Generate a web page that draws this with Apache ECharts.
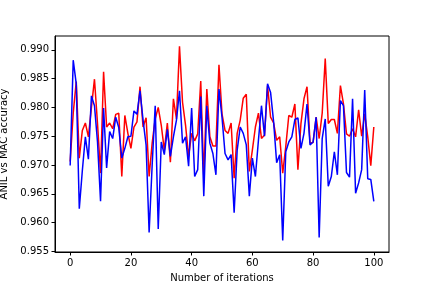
<!DOCTYPE html>
<html>
<head>
<meta charset="utf-8">
<script src="https://cdn.jsdelivr.net/npm/echarts@6/dist/echarts.min.js"></script>
<style>html,body{margin:0;padding:0;background:#fff}#c{width:432px;height:288px}</style>
</head>
<body>
<div id="c"></div>
<script>
const xTicks = [0, 20, 40, 60, 80, 100];
const yTicks = [0.955, 0.960, 0.965, 0.970, 0.975, 0.980, 0.985, 0.990];
const redValues = [
0.9706, 0.9790, 0.9845, 0.9712, 0.9760, 0.9773, 0.9749, 0.9800, 0.9849, 0.9772,
0.9686, 0.9862, 0.9766, 0.9773, 0.9763, 0.9788, 0.9790, 0.9680, 0.9786, 0.9755,
0.9729, 0.9766, 0.9775, 0.9836, 0.9766, 0.9782, 0.9680, 0.9738, 0.9780, 0.9800,
0.9769, 0.9726, 0.9773, 0.9705, 0.9815, 0.9780, 0.9906, 0.9809, 0.9769, 0.9715,
0.9755, 0.9742, 0.9754, 0.9846, 0.9680, 0.9832, 0.9749, 0.9733, 0.9733, 0.9874,
0.9789, 0.9760, 0.9755, 0.9773, 0.9677, 0.9755, 0.9778, 0.9816, 0.9823, 0.9689,
0.9726, 0.9766, 0.9790, 0.9746, 0.9752, 0.9838, 0.9783, 0.9773, 0.9743, 0.9749,
0.9686, 0.9732, 0.9786, 0.9783, 0.9806, 0.9692, 0.9772, 0.9815, 0.9836, 0.9738,
0.9739, 0.9783, 0.9746, 0.9790, 0.9885, 0.9772, 0.9779, 0.9779, 0.9755, 0.9838,
0.9806, 0.9754, 0.9750, 0.9763, 0.9749, 0.9796, 0.9750, 0.9789, 0.9749, 0.9699,
0.9766];
const blueValues = [
0.9699, 0.9882, 0.9841, 0.9624, 0.9690, 0.9749, 0.9710, 0.9820, 0.9803, 0.9740,
0.9637, 0.9799, 0.9695, 0.9758, 0.9746, 0.9783, 0.9765, 0.9712, 0.9729, 0.9749,
0.9750, 0.9794, 0.9788, 0.9829, 0.9778, 0.9735, 0.9583, 0.9700, 0.9803, 0.9589,
0.9740, 0.9718, 0.9762, 0.9715, 0.9749, 0.9778, 0.9829, 0.9738, 0.9749, 0.9698,
0.9799, 0.9680, 0.9692, 0.9819, 0.9646, 0.9803, 0.9738, 0.9720, 0.9683, 0.9832,
0.9783, 0.9720, 0.9709, 0.9718, 0.9617, 0.9726, 0.9766, 0.9755, 0.9735, 0.9646,
0.9712, 0.9680, 0.9743, 0.9803, 0.9750, 0.9841, 0.9826, 0.9775, 0.9704, 0.9718,
0.9569, 0.9723, 0.9740, 0.9749, 0.9779, 0.9782, 0.9729, 0.9755, 0.9806, 0.9735,
0.9740, 0.9783, 0.9574, 0.9746, 0.9780, 0.9663, 0.9680, 0.9723, 0.9683, 0.9812,
0.9803, 0.9687, 0.9679, 0.9815, 0.9651, 0.9669, 0.9692, 0.9830, 0.9676, 0.9675,
0.9637];

const toPairs = arr => arr.map((v, i) => [i, v]);
const font = 'DejaVu Sans';
const chart = echarts.init(document.getElementById('c'), null, {renderer: 'canvas'});
chart.setOption({
  animation: false,
  backgroundColor: '#fff',
  grid: {left: 55, right: 43, top: 36, bottom: 36, show: true, borderColor: '#000', borderWidth: 1,
         backgroundColor: 'transparent', containLabel: false, outerBoundsMode: 'none'},
  xAxis: {
    type: 'value', min: -5, max: 105,
    name: 'Number of iterations', nameLocation: 'middle', nameGap: 21,
    nameTextStyle: {fontFamily: font, fontSize: 10, color: '#000'},
    axisLine: {show: true, onZero: false, lineStyle: {color: '#000', width: 1}},
    axisTick: {show: true, length: 3.5, inside: false, lineStyle: {color: '#000'}, customValues: xTicks},
    axisLabel: {fontFamily: font, fontSize: 10, color: '#000', margin: 6, customValues: xTicks},
    splitLine: {show: false}
  },
  yAxis: {
    type: 'value', min: 0.9549, max: 0.9924,
    name: 'ANIL vs MAC accuracy', nameLocation: 'middle', nameGap: 40, nameRotate: 90,
    nameTextStyle: {fontFamily: font, fontSize: 10, color: '#000'},
    axisLine: {show: true, onZero: false, lineStyle: {color: '#000', width: 1}},
    axisTick: {show: true, length: 3.5, lineStyle: {color: '#000'}, customValues: yTicks},
    axisLabel: {fontFamily: font, fontSize: 10, color: '#000', margin: 6, customValues: yTicks,
      formatter: v => v.toFixed(3)},
    splitLine: {show: false}
  },
  series: [
    {type: 'line', data: toPairs(redValues), showSymbol: false, symbol: 'none',
     lineStyle: {color: '#ff0000', width: 1.5}, itemStyle: {color: '#ff0000'}},
    {type: 'line', data: toPairs(blueValues), showSymbol: false, symbol: 'none',
     lineStyle: {color: '#0000ff', width: 1.5}, itemStyle: {color: '#0000ff'}}
  ]
});
</script>
</body>
</html>
